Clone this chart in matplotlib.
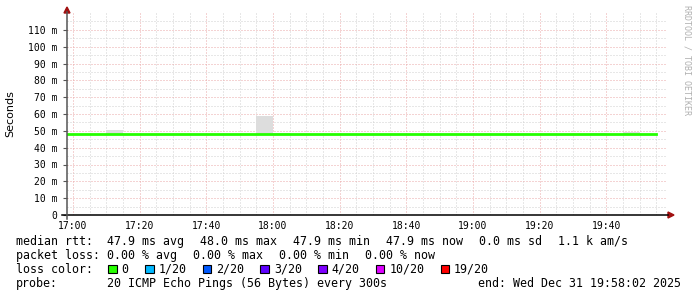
import matplotlib
matplotlib.use('Agg')
import matplotlib.pyplot as plt
from matplotlib.patches import Rectangle, Polygon
from matplotlib.lines import Line2D

# step start times, minutes after 17:00 (5 min steps, 16:55 .. 19:50)
minutes = [-5, 0, 5, 10, 15, 20, 25, 30, 35, 40, 45, 50, 55, 60, 65, 70, 75, 80,
           85, 90, 95, 100, 105, 110, 115, 120, 125, 130, 135, 140, 145, 150,
           155, 160, 165, 170]
median_ms = [47.9] * 36
smoke_lo_ms = [47.6] * 36
smoke_hi_ms = [48.1, 48.1, 48.2, 50.2, 48.1, 48.1, 48.2, 48.1, 48.1, 48.1, 48.2, 48.1,
               58.7, 48.8, 48.2, 48.1, 48.1, 48.1, 48.2, 48.1, 48.1, 48.1, 48.2, 48.1,
               48.1, 48.1, 48.2, 48.1, 48.1, 48.1, 48.1, 48.2, 48.8, 48.1, 49.4, 48.1]
tick_minutes = [0, 20, 40, 60, 80, 100, 120, 140, 160]
tick_labels = ['17:00', '17:20', '17:40', '18:00', '18:20', '18:40', '19:00', '19:20', '19:40']
y_ticks = [0, 10, 20, 30, 40, 50, 60, 70, 80, 90, 100, 110]
y_labels = ['0'] + ['%d m' % v for v in y_ticks[1:]]

loss_labels = ['0', '1/20', '2/20', '3/20', '4/20', '10/20', '19/20']
loss_colors = ['#26ff00', '#00b8ff', '#0059ff', '#5e00ff', '#7e00ff', '#dd00ff', '#ff0000']

W, H = 697, 297
def fx(x):
    return x / W
def fy(y):
    return 1 - y / H

mono = 'DejaVu Sans Mono'
fig = plt.figure(figsize=(W / 100, H / 100), dpi=100)
ax = fig.add_axes([fx(67), fy(215), 600 / W, 202 / H])

# grid, dotted
dots = (0, (1, 2))
for m in range(-5, 180, 5):
    c = '#eaa8a8' if m % 20 == 0 else '#d0d0d0'
    ax.axvline(m, color=c, lw=0.72, ls=dots, zorder=0)
for v in range(5, 120, 5):
    c = '#eaa8a8' if v % 10 == 0 else '#d0d0d0'
    ax.axhline(v, color=c, lw=0.72, ls=dots, zorder=0)

t = minutes + [minutes[-1] + 5]
ax.fill_between(t, smoke_lo_ms + [smoke_lo_ms[-1]], smoke_hi_ms + [smoke_hi_ms[-1]],
                step='post', color='#dddddd', lw=0, zorder=1)
ax.step(t, median_ms + [median_ms[-1]], where='post', color='#26ff00', lw=2.0, zorder=2)

ax.set_xlim(-1.8, 178.2)
ax.set_ylim(0, 120)
ax.set_xticks(tick_minutes)
ax.set_xticklabels(tick_labels, fontfamily=mono, fontsize=7)
ax.set_yticks(y_ticks)
ax.set_yticklabels(y_labels, fontfamily=mono, fontsize=7)
ax.tick_params(axis='x', length=0, pad=4)
ax.tick_params(axis='y', length=3, width=0.8, pad=4, color='#555555')
for s in ax.spines.values():
    s.set_visible(False)
ax.patch.set_alpha(0)

# axis lines with arrows
fig.add_artist(Line2D([fx(62), fx(668)], [fy(215), fy(215)], color='black', lw=1.1))
fig.add_artist(Line2D([fx(67), fx(67)], [fy(219), fy(12)], color='#555555', lw=1.1))
fig.add_artist(Polygon([[fx(668), fy(212)], [fx(674), fy(215)], [fx(668), fy(218)]],
                       closed=True, color='#a01010'))
fig.add_artist(Polygon([[fx(64), fy(13)], [fx(67), fy(7)], [fx(70), fy(13)]],
                       closed=True, color='#a01010'))

fig.text(fx(10), fy(114), 'Seconds', rotation=90, ha='center', va='center', fontsize=8)
fig.text(fx(687), fy(5), 'RRDTOOL / TOBI OETIKER', rotation=270, ha='center', va='top',
         fontsize=6, fontfamily=mono, color='#b0b0b0')

fs = 8.4
pitch = 7.0
gap = 16

def txt(x, y, s, **kw):
    # y is the text centre in pixels, drawn on the baseline
    fig.text(fx(x), fy(y + 4), s, fontfamily=mono, fontsize=fs, va='baseline', **kw)

def row(y, label, items):
    txt(16, y, label)
    x = 107
    for it in items:
        txt(x, y, it)
        x += len(it) * pitch + gap

row(241, 'median rtt:', ['47.9 ms avg', '48.0 ms max', '47.9 ms min', '47.9 ms now',
                         '0.0 ms sd', '1.1 k am/s'])
row(255, 'packet loss:', ['0.00 % avg', '0.00 % max', '0.00 % min', '0.00 % now'])

txt(16, 269, 'loss color:')
x = 108.3
for lab, col in zip(loss_labels, loss_colors):
    fig.add_artist(Rectangle((fx(x), fy(273)), 8.5 / W, 8.5 / H, facecolor=col,
                             edgecolor='black', lw=0.8))
    txt(x + 13.4, 269, lab)
    x += 13.4 + len(lab) * pitch + 16.3

txt(16, 283, 'probe:')
txt(107, 283, '20 ICMP Echo Pings (56 Bytes) every 300s')
txt(681, 283, 'end: Wed Dec 31 19:58:02 2025', ha='right')

fig.savefig('out.png', dpi=100)
